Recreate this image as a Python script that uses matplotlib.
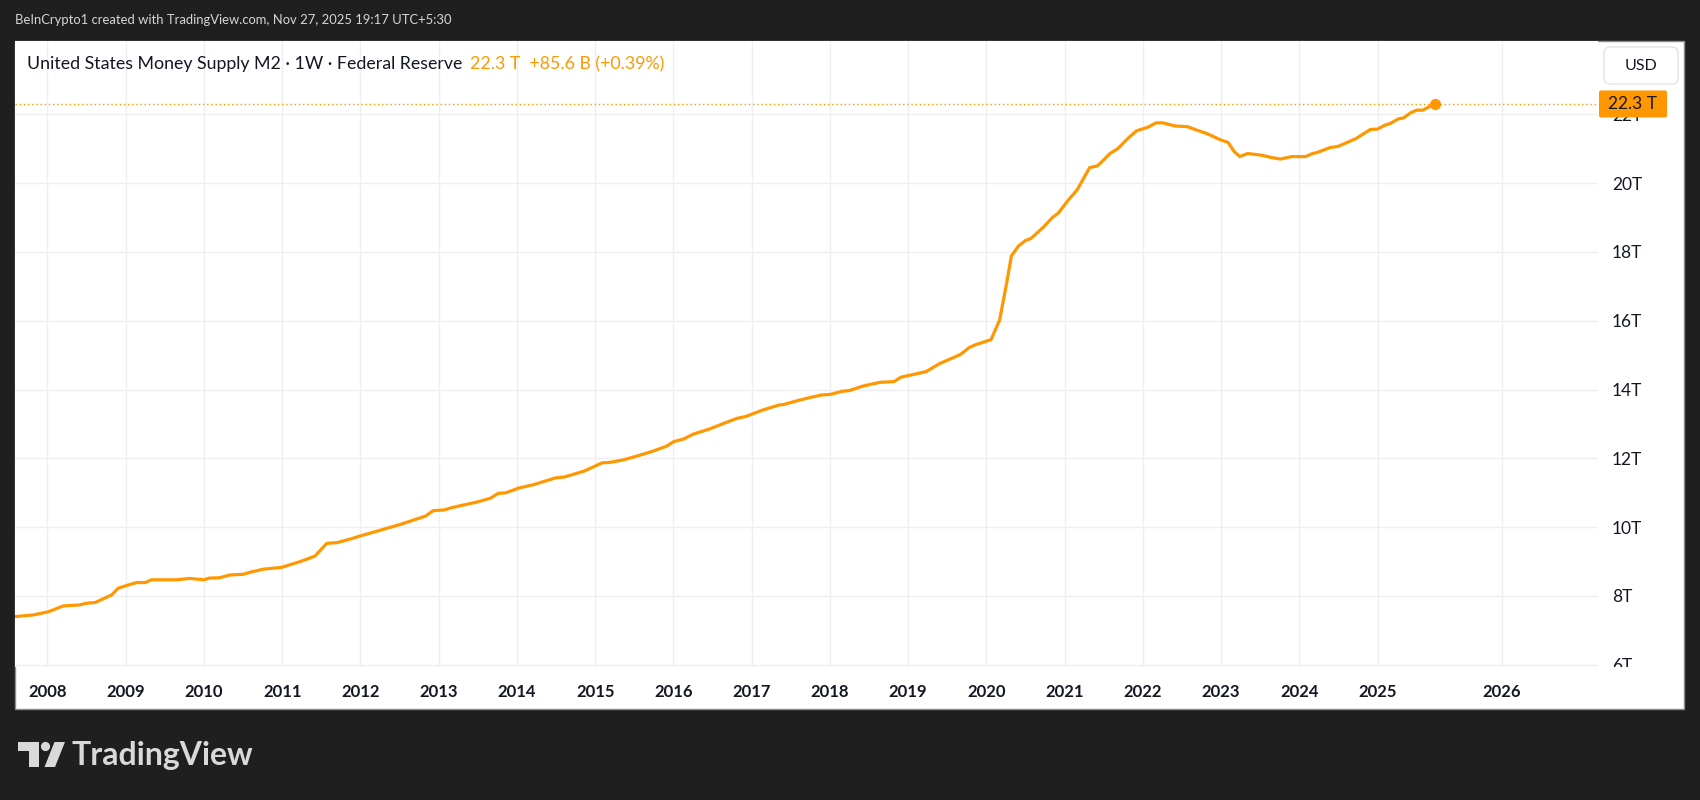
import numpy as np
import matplotlib
matplotlib.use("Agg")
import matplotlib.pyplot as plt
from matplotlib.patches import Rectangle, FancyBboxPatch, Circle, Polygon
from matplotlib.transforms import Affine2D

plt.rcParams['font.family'] = ['Lato', 'DejaVu Sans']

# US M2 money supply (decimal year, trillions USD)
fecha = [2007.58, 2007.82, 2008.01, 2008.20, 2008.41, 2008.50, 2008.61, 2008.82, 2008.90, 2008.99,
         2009.14, 2009.25, 2009.33, 2009.65, 2009.82, 2010.00, 2010.07, 2010.20, 2010.33, 2010.50,
         2010.59, 2010.76, 2010.99, 2011.23, 2011.42, 2011.57, 2011.70, 2011.91, 2011.99, 2012.16,
         2012.51, 2012.83, 2012.93, 2013.07, 2013.17, 2013.49, 2013.66, 2013.76, 2013.86, 2014.03,
         2014.22, 2014.49, 2014.61, 2014.86, 2015.09, 2015.18, 2015.35, 2015.54, 2015.74, 2015.91,
         2016.01, 2016.13, 2016.25, 2016.47, 2016.67, 2016.81, 2016.93, 2017.15, 2017.35, 2017.42,
         2017.59, 2017.77, 2017.89, 2018.01, 2018.16, 2018.25, 2018.42, 2018.64, 2018.82, 2018.91,
         2019.23, 2019.40, 2019.67, 2019.78, 2019.86, 2020.06, 2020.17, 2020.26, 2020.32, 2020.41,
         2020.50, 2020.57, 2020.73, 2020.84, 2020.92, 2021.06, 2021.16, 2021.32, 2021.42, 2021.48,
         2021.58, 2021.68, 2021.81, 2021.92, 2022.06, 2022.17, 2022.26, 2022.41, 2022.57, 2022.69,
         2022.82, 2022.98, 2023.09, 2023.17, 2023.24, 2023.34, 2023.52, 2023.65, 2023.76, 2023.90,
         2024.08, 2024.17, 2024.23, 2024.39, 2024.50, 2024.73, 2024.91, 2025.00, 2025.09, 2025.16,
         2025.27, 2025.33, 2025.42, 2025.50, 2025.58, 2025.67, 2025.74]
m2 = [7.40, 7.45, 7.54, 7.71, 7.74, 7.79, 7.81, 8.03, 8.22, 8.29,
      8.39, 8.39, 8.47, 8.47, 8.51, 8.47, 8.52, 8.53, 8.61, 8.63,
      8.69, 8.78, 8.83, 9.00, 9.16, 9.53, 9.55, 9.68, 9.74, 9.85,
      10.08, 10.32, 10.48, 10.50, 10.57, 10.73, 10.84, 10.98, 11.00, 11.14,
      11.24, 11.43, 11.46, 11.63, 11.87, 11.88, 11.95, 12.07, 12.21, 12.35,
      12.49, 12.56, 12.70, 12.86, 13.04, 13.16, 13.22, 13.41, 13.55, 13.57,
      13.68, 13.78, 13.84, 13.86, 13.95, 13.97, 14.10, 14.21, 14.23, 14.36,
      14.52, 14.75, 15.02, 15.22, 15.30, 15.45, 16.02, 17.10, 17.88, 18.17,
      18.33, 18.39, 18.72, 18.99, 19.13, 19.54, 19.80, 20.45, 20.50, 20.63,
      20.86, 21.00, 21.30, 21.52, 21.62, 21.75, 21.75, 21.66, 21.64, 21.54,
      21.44, 21.27, 21.18, 20.91, 20.77, 20.86, 20.81, 20.74, 20.70, 20.77,
      20.77, 20.86, 20.89, 21.03, 21.07, 21.30, 21.56, 21.57, 21.68, 21.73,
      21.87, 21.89, 22.04, 22.12, 22.12, 22.23, 22.30]

anios = ["2008", "2009", "2010", "2011", "2012", "2013", "2014", "2015", "2016",
         "2017", "2018", "2019", "2020", "2021", "2022", "2023", "2024", "2025", "2026"]
# 2026 sits further right: the future zone is spaced wider on TradingView
pos_anios = [2008, 2009, 2010, 2011, 2012, 2013, 2014, 2015, 2016,
             2017, 2018, 2019, 2020, 2021, 2022, 2023, 2024, 2025, 2026.585]
niveles = [6, 8, 10, 12, 14, 16, 18, 20, 22]
niveles_txt = ["6T", "8T", "10T", "12T", "14T", "16T", "18T", "20T", "22T"]

titulo = "United States Money Supply M2 · 1W · Federal Reserve"
valor_txt = "22.3 T  +85.6 B (+0.39%)"
cabecera = "BeInCrypto1 created with TradingView.com, Nov 27, 2025 19:17 UTC+5:30"

fondo = "#1f1f1f"
naranja = "#ff9800"
oscuro = "#131722"

fig = plt.figure(figsize=(17, 8), dpi=100)
fig.patch.set_facecolor(fondo)
# pixel coords, origin top-left
px = Affine2D().scale(1 / 1700, -1 / 800).translate(0, 1) + fig.transFigure

# white chart panel
fig.add_artist(Rectangle((15, 41), 1669, 668, transform=px, facecolor="white",
                         edgecolor="#8c8c8c", lw=1, zorder=-5))

ax = fig.add_axes([15 / 1700, 133 / 800, 1583 / 1700, 626 / 800])
ax.set_facecolor("white")
for s in ax.spines.values():
    s.set_visible(False)

ax.plot(fecha, m2, color=naranja, lw=2.3, solid_joinstyle="round", zorder=3)
ax.plot(fecha[-1], m2[-1], "o", color=naranja, ms=7, zorder=4)
ax.axhline(m2[-1], color=naranja, lw=1, ls=(0, (1, 2)), zorder=2)

ax.set_xlim(2007.585, 2027.818)
ax.set_ylim(5.936, 24.13)
ax.set_xticks(pos_anios, anios)
ax.set_yticks(niveles, niveles_txt)
ax.yaxis.tick_right()
ax.tick_params(axis="x", length=0, pad=12, labelsize=12, labelcolor=oscuro)
ax.tick_params(axis="y", length=0, pad=10, labelsize=12.5, labelcolor=oscuro)
for lab in ax.get_xticklabels():
    lab.set_fontweight("bold")
ax.grid(color="#efefef", lw=1)
ax.set_axisbelow(True)

# hide the part of the bottom price label that falls under the time scale
fig.add_artist(Rectangle((1599, 667), 84, 41, transform=px, facecolor="white",
                         edgecolor="none", zorder=5))

# title line
t1 = fig.text(27, 64, titulo, transform=px, va="center", ha="left",
              color=oscuro, fontsize=12.8)
ax.annotate(valor_txt, xy=(1, 0.5), xycoords=t1, xytext=(8, 0),
            textcoords="offset pixels", va="center", ha="left",
            color=naranja, fontsize=12.8, annotation_clip=False)

# header
fig.text(15, 20, cabecera, transform=px, va="center", ha="left",
         color="#d6d6d6", fontsize=9.4)

# USD button
fig.add_artist(FancyBboxPatch((1604, 47), 74, 37, boxstyle="round,pad=0,rounding_size=6",
                              transform=px, facecolor="white", edgecolor="#e0e3eb",
                              lw=1, zorder=6))
fig.text(1641, 65.5, "USD", transform=px, ha="center", va="center",
         color=oscuro, fontsize=11.5, zorder=7)

# last value label on the price scale
y_ult = 800 - ax.transData.transform((fecha[-1], m2[-1]))[1]
fig.add_artist(FancyBboxPatch((1599, y_ult - 13.5), 68, 27,
                              boxstyle="round,pad=0,rounding_size=2", transform=px,
                              facecolor=naranja, edgecolor="none", zorder=6))
fig.text(1633, y_ult, "22.3 T", transform=px, ha="center", va="center",
         color=oscuro, fontsize=12.5, zorder=7)

# TradingView logo
gris = "#d9d9d9"
fig.add_artist(Polygon([(18, 742), (39, 742), (39, 767), (29, 767), (29, 751), (18, 751)],
                       closed=True, transform=px, facecolor=gris, edgecolor="none"))
fig.add_artist(Circle((45.5, 746.5), 4.6, transform=px, facecolor=gris, edgecolor="none"))
fig.add_artist(Polygon([(54.5, 742), (65, 742), (55, 767), (44.5, 767)],
                       closed=True, transform=px, facecolor=gris, edgecolor="none"))
fig.text(72, 755, "TradingView", transform=px, ha="left", va="center",
         color=gris, fontsize=23, fontweight="bold")

fig.savefig("out.png", dpi=100, facecolor=fondo)
